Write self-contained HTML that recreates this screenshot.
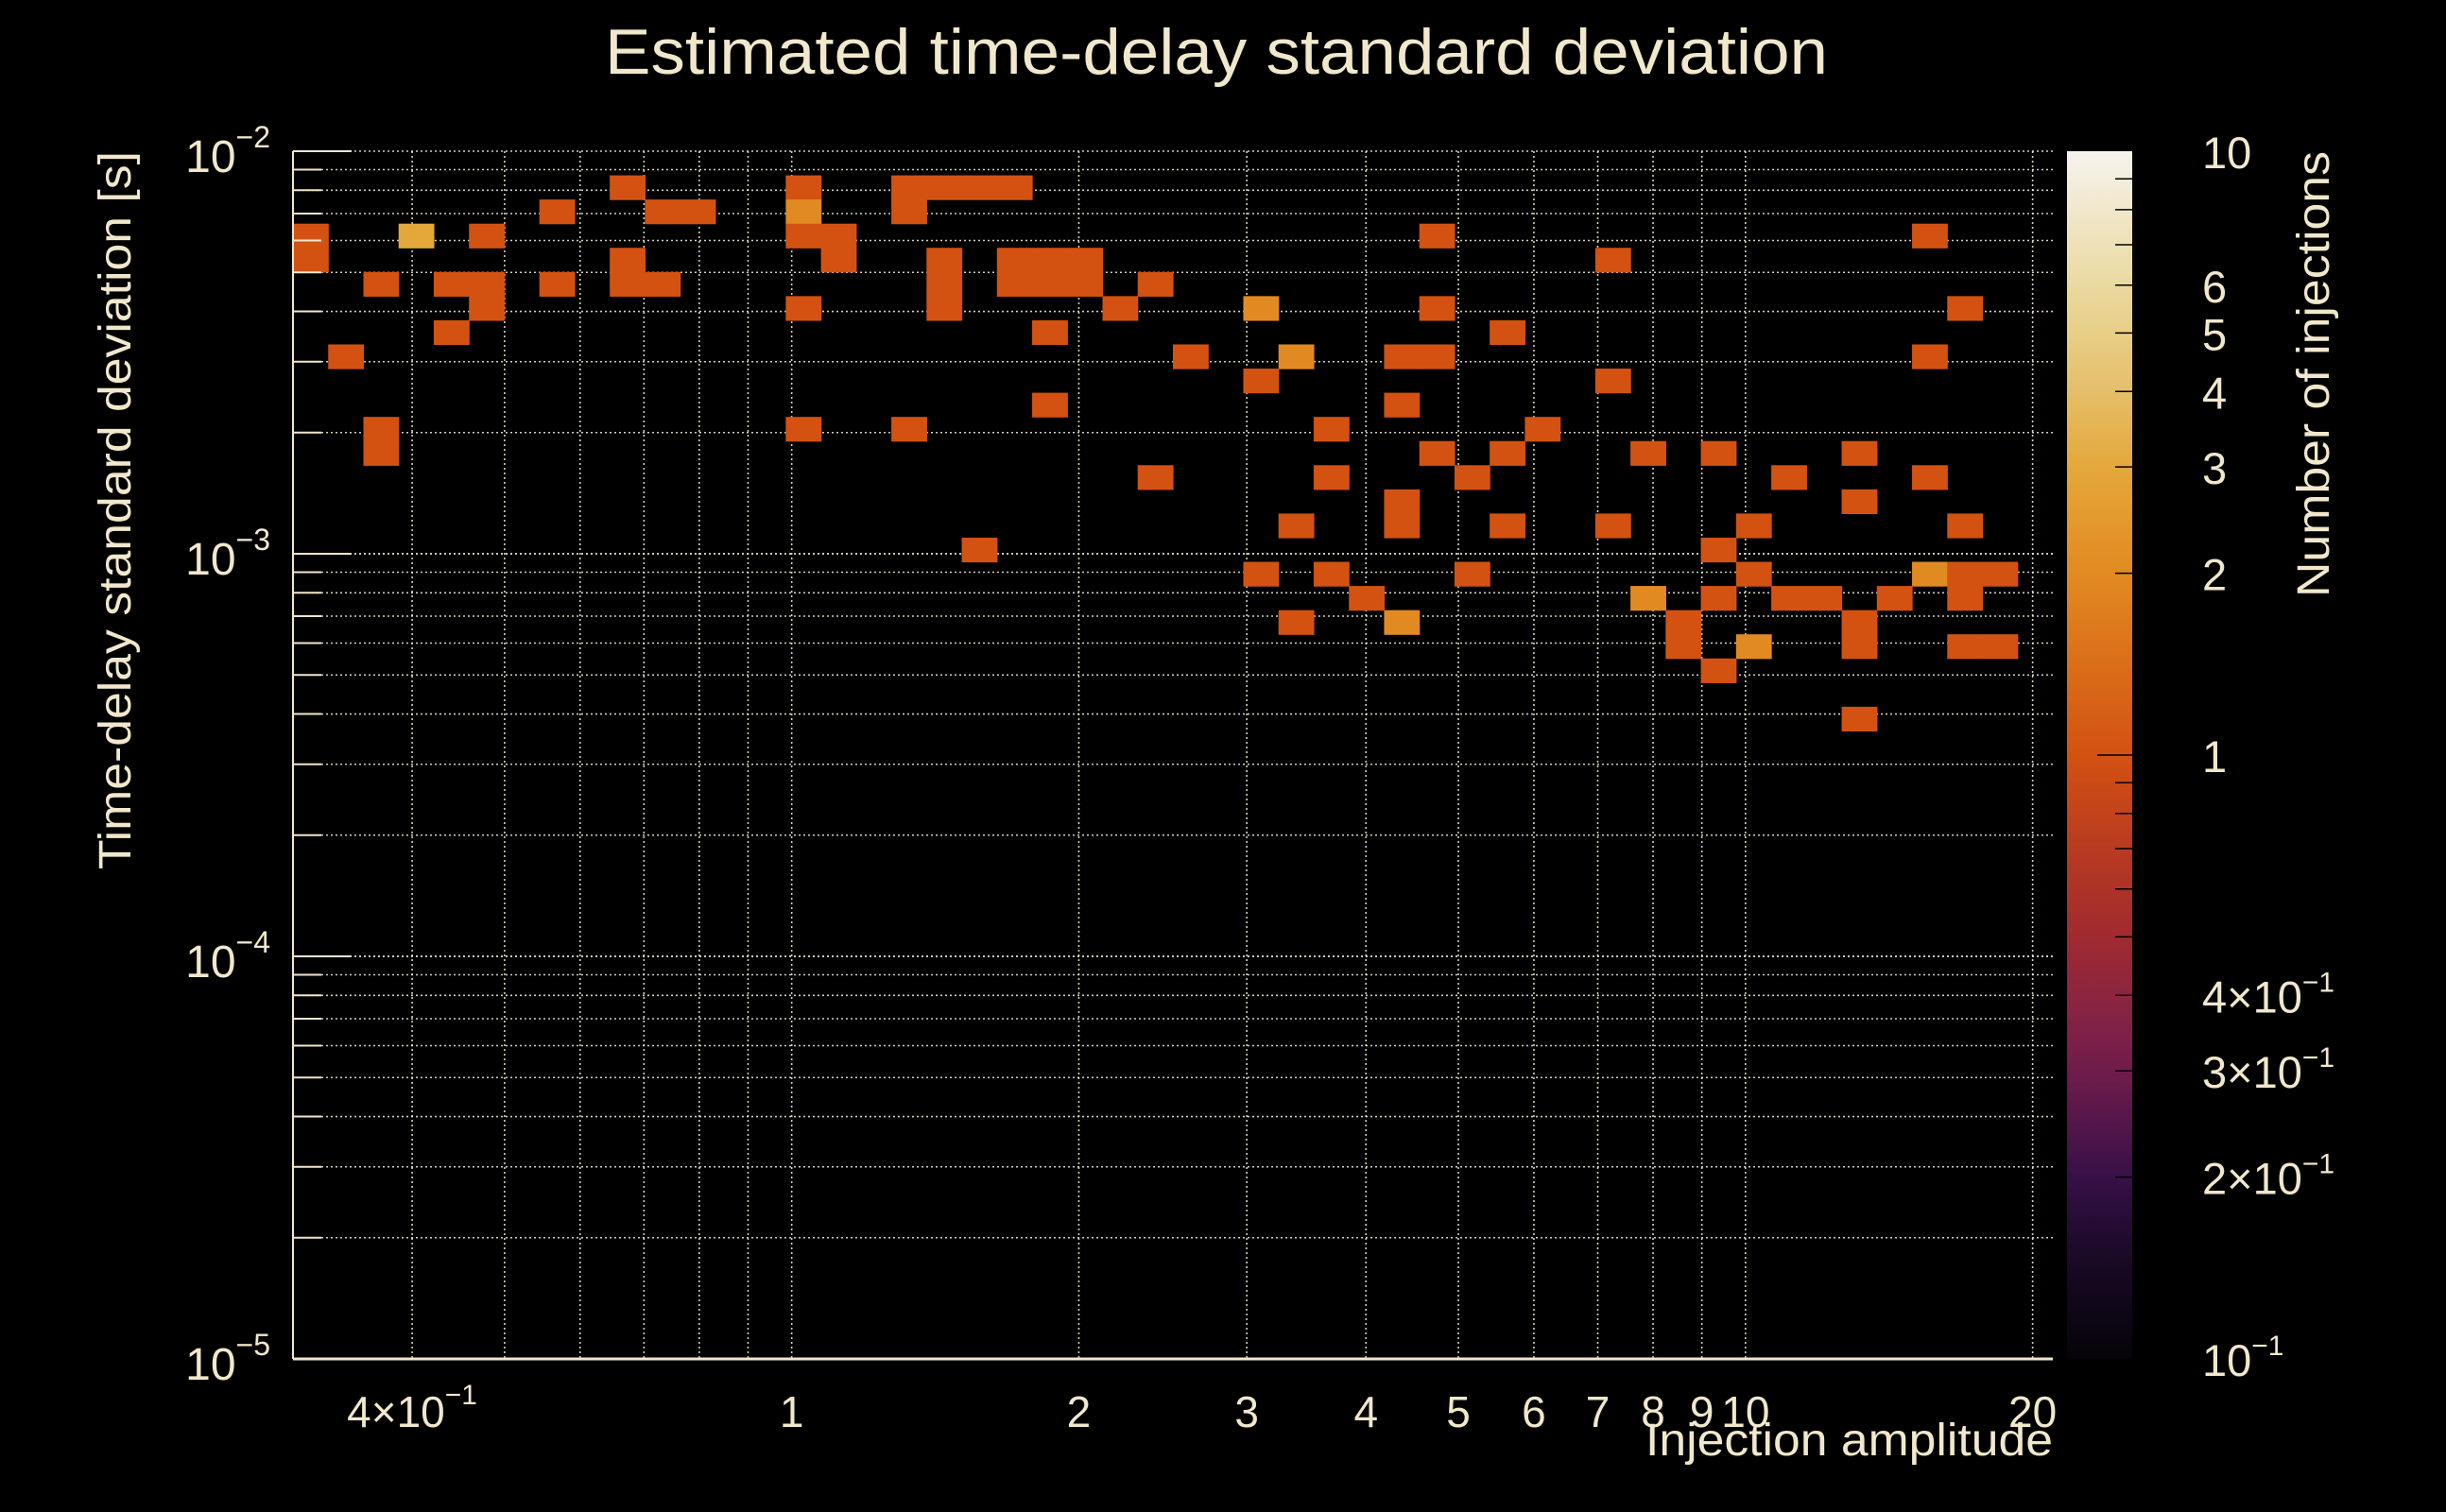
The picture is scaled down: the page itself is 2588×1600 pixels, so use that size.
<!DOCTYPE html>
<html><head><meta charset="utf-8"><title>Estimated time-delay standard deviation</title>
<style>
html,body{margin:0;padding:0;background:#000;}
svg{display:block;}
text{font-family:"Liberation Sans",sans-serif;fill:#f1e8cc;}
</style></head>
<body>
<svg id="chart" xmlns="http://www.w3.org/2000/svg" width="2588" height="1600" viewBox="0 0 2588 1600">
<rect x="0" y="0" width="2588" height="1600" fill="#000"/>
<g id="grid"></g>
<g id="cells"></g>
<g id="axes"></g>
<g id="cbar"></g>
<text x="1287" y="78" font-size="68" text-anchor="middle" textLength="1294" lengthAdjust="spacingAndGlyphs">Estimated time-delay standard deviation</text>
<text transform="translate(138,540) rotate(-90)" font-size="48" text-anchor="middle" textLength="760" lengthAdjust="spacingAndGlyphs">Time-delay standard deviation [s]</text>
<text x="2172" y="1540" font-size="48" text-anchor="end" textLength="431" lengthAdjust="spacingAndGlyphs">Injection amplitude</text>
<text transform="translate(2464,396) rotate(-90)" font-size="48" text-anchor="middle" textLength="472" lengthAdjust="spacingAndGlyphs">Number of injections</text>
</svg>
<script>
// ---- data ----
const amplitudes = [
0.672,1.03,1.33,1.44,1.57,1.71,
0.567,0.732,0.797,1.03,1.33,
0.313,0.404,0.479,1.03,1.12,4.75,15.6,
0.313,0.672,1.12,1.44,1.71,1.86,2.03,7.26,
0.371,0.440,0.479,0.567,0.672,0.732,1.44,1.71,1.86,2.03,2.41,
0.479,1.03,1.44,2.21,3.10,4.75,17.0,
0.440,1.86,5.63,
0.341,2.62,3.38,4.36,4.75,15.6,
3.10,7.26,
1.86,4.36,
0.371,1.03,1.33,3.68,6.13,
0.371,4.75,5.63,7.90,9.37,13.2,
2.41,3.68,5.17,11.1,15.6,
4.36,13.2,
3.38,4.36,5.63,7.26,10.2,17.0,
1.57,9.37,
3.10,3.68,5.17,10.2,15.6,17.0,18.5,
4.00,7.90,9.37,11.1,12.1,14.3,17.0,
3.38,4.36,8.61,13.2,
8.61,10.2,13.2,17.0,18.5,
9.37,
13.2
];
const sigmas = [
8.13e-3,8.13e-3,8.13e-3,8.13e-3,8.13e-3,8.13e-3,
7.08e-3,7.08e-3,7.08e-3,7.08e-3,7.08e-3,
6.17e-3,6.17e-3,6.17e-3,6.17e-3,6.17e-3,6.17e-3,6.17e-3,
5.37e-3,5.37e-3,5.37e-3,5.37e-3,5.37e-3,5.37e-3,5.37e-3,5.37e-3,
4.68e-3,4.68e-3,4.68e-3,4.68e-3,4.68e-3,4.68e-3,4.68e-3,4.68e-3,4.68e-3,4.68e-3,4.68e-3,
4.07e-3,4.07e-3,4.07e-3,4.07e-3,4.07e-3,4.07e-3,4.07e-3,
3.55e-3,3.55e-3,3.55e-3,
3.09e-3,3.09e-3,3.09e-3,3.09e-3,3.09e-3,3.09e-3,
2.69e-3,2.69e-3,
2.34e-3,2.34e-3,
2.04e-3,2.04e-3,2.04e-3,2.04e-3,2.04e-3,
1.78e-3,1.78e-3,1.78e-3,1.78e-3,1.78e-3,1.78e-3,
1.55e-3,1.55e-3,1.55e-3,1.55e-3,1.55e-3,
1.35e-3,1.35e-3,
1.17e-3,1.17e-3,1.17e-3,1.17e-3,1.17e-3,1.17e-3,
1.02e-3,1.02e-3,
8.91e-4,8.91e-4,8.91e-4,8.91e-4,8.91e-4,8.91e-4,8.91e-4,
7.76e-4,7.76e-4,7.76e-4,7.76e-4,7.76e-4,7.76e-4,7.76e-4,
6.76e-4,6.76e-4,6.76e-4,6.76e-4,
5.89e-4,5.89e-4,5.89e-4,5.89e-4,5.89e-4,
5.13e-4,
3.89e-4
];
const counts = [
1,1,1,1,1,1,
1,1,1,2,1,
1,3,1,1,1,1,1,
1,1,1,1,1,1,1,1,
1,1,1,1,1,1,1,1,1,1,1,
1,1,1,1,2,1,1,
1,1,1,
1,1,2,1,1,1,
1,1,
1,1,
1,1,1,1,1,
1,1,1,1,1,1,
1,1,1,1,1,
1,1,
1,1,1,1,1,1,
1,1,
1,1,1,1,2,1,1,
1,2,1,1,1,1,1,
1,2,1,1,
1,2,1,1,1,
1,
1
];
const xTickValues = [0.4,1,2,3,4,5,6,7,8,9,10,20];
const xTickLabels = ["4×10","1","2","3","4","5","6","7","8","9","10","20"];
const yDecades = [-5,-4,-3,-2];
const cbarTickValues = [0.1,0.2,0.3,0.4,1,2,3,4,5,6,10];
const cbarTickLabels = ["10","2×10","3×10","4×10","1","2","3","4","5","6","10"];

// ---- geometry ----
const NS="http://www.w3.org/2000/svg";
const PX0=310, PX1=2172, PY0=160, PY1=1438;
const XMIN=0.3, XMAX=21, YMIN=1e-5, YMAX=1e-2, NBX=50, NBY=50;
const LX0=Math.log10(XMIN), LX1=Math.log10(XMAX), LY0=Math.log10(YMIN), LY1=Math.log10(YMAX);
function xScale(v){return PX0+(Math.log10(v)-LX0)/(LX1-LX0)*(PX1-PX0);}
function yScale(v){return PY1-(Math.log10(v)-LY0)/(LY1-LY0)*(PY1-PY0);}
const CB0=2187, CB1=2256;
function cScale(v){return PY1-(Math.log10(v)+1)/2*(PY1-PY0);}
const cstops=[[0.1,[5,3,8]],[0.15,[26,10,40]],[0.2,[55,16,72]],[0.3,[112,29,76]],[0.4,[140,37,64]],[0.5,[160,42,48]],[0.7,[184,58,34]],[1,[211,82,18]],[2,[226,138,34]],[3,[228,168,58]],[4,[229,190,106]],[5,[232,207,136]],[6,[234,217,160]],[10,[246,243,238]]];
function cmap(v){
  const l=Math.log10(v);
  for(let i=0;i<cstops.length-1;i++){
    const a=Math.log10(cstops[i][0]), b=Math.log10(cstops[i+1][0]);
    if(l<=b||i===cstops.length-2){
      let t=Math.max(0,Math.min(1,(l-a)/(b-a)));
      const c=cstops[i][1].map((x,j)=>Math.round(x+(cstops[i+1][1][j]-x)*t));
      return "rgb("+c.join(",")+")";
    }
  }
}
function mk(tag,attrs,parent){const e=document.createElementNS(NS,tag);for(const k in attrs)e.setAttribute(k,attrs[k]);parent.appendChild(e);return e;}

// ---- grid ----
const grid=document.getElementById('grid');
const gstyle={stroke:"#fbf3dc","stroke-width":"1.6","stroke-dasharray":"2 3",opacity:"0.85"};
const xGridVals=[0.4,0.5,0.6,0.7,0.8,0.9,1,2,3,4,5,6,7,8,9,10,20];
xGridVals.forEach(v=>{
  const x=xScale(v);
  const l=mk('line',Object.assign({x1:x,x2:x,y1:PY0,y2:PY1},gstyle),grid);
  
  
});
for(let d=-5;d<=-3;d++){for(let m=1;m<=10;m++){
  const v=m*Math.pow(10,d); const y=yScale(v);
  const l=mk('line',Object.assign({x1:PX0,x2:PX1,y1:y,y2:y},gstyle),grid);
  
  
}}

// ---- cells ----
const cellsG=document.getElementById('cells');
for(let i=0;i<amplitudes.length;i++){
  const bx=Math.floor((Math.log10(amplitudes[i])-LX0)/(LX1-LX0)*NBX);
  const by=Math.floor((Math.log10(sigmas[i])-LY0)/(LY1-LY0)*NBY);
  const x=xScale(Math.pow(10,LX0+bx*(LX1-LX0)/NBX));
  const x2=xScale(Math.pow(10,LX0+(bx+1)*(LX1-LX0)/NBX));
  const y=yScale(Math.pow(10,LY0+(by+1)*(LY1-LY0)/NBY));
  const y2=yScale(Math.pow(10,LY0+by*(LY1-LY0)/NBY));
  const r=mk('rect',{x:x.toFixed(2),y:y.toFixed(2),width:(x2-x+0.6).toFixed(2),height:(y2-y+0.6).toFixed(2),fill:cmap(counts[i])},cellsG);
  
  
}

// ---- axes ----
const axes=document.getElementById('axes');
const ax=mk('line',{x1:PX0,x2:PX1,y1:PY1,y2:PY1,stroke:"#efe6cc","stroke-width":"3"},axes);


const ay=mk('line',{x1:PX0,x2:PX0,y1:PY0,y2:PY1,stroke:"#efe6cc","stroke-width":"2"},axes);


for(let d=-5;d<=-2;d++){for(let m=1;m<=9;m++){
  if(d===-2&&m>1)break;
  const y=yScale(m*Math.pow(10,d));
  const t=mk('line',{x1:PX0,x2:PX0+(m===1?62:30),y1:y,y2:y,stroke:"#efe6cc","stroke-width":"2"},axes);
  
  
}}
yDecades.forEach(d=>{
  const y=yScale(Math.pow(10,d));
  const t=mk('text',{x:286,y:y+22,"font-size":"48","text-anchor":"end"},axes);
  
  
  t.appendChild(document.createTextNode("10"));
  const s=mk('tspan',{"font-size":"32",dy:"-26"},t);
  s.textContent="−"+(-d);
});
xTickValues.forEach((v,i)=>{
  const x=xScale(v);
  const t=mk('text',{x:x,y:1510,"font-size":"46","text-anchor":"middle"},axes);
  
  
  t.appendChild(document.createTextNode(xTickLabels[i]));
  if(i===0){const s=mk('tspan',{"font-size":"30",dy:"-24"},t);s.textContent="−1";}
});

// ---- colorbar ----
const cbar=document.getElementById('cbar');
const defs=mk('defs',{},cbar);
const grad=mk('linearGradient',{id:"cgrad",x1:"0",y1:"1",x2:"0",y2:"0"},defs);
for(let k=0;k<=40;k++){
  const v=Math.pow(10,-1+2*k/40);
  mk('stop',{offset:(k/40).toFixed(3),"stop-color":cmap(v)},grad);
}
const cb=mk('rect',{x:CB0,y:PY0,width:CB1-CB0,height:PY1-PY0,fill:"url(#cgrad)"},cbar);


for(let d=-1;d<=0;d++){for(let m=1;m<=9;m++){
  const v=m*Math.pow(10,d); if(v<=0.1)continue;
  const y=cScale(v);
  const t=mk('line',{x1:CB1-(m===1?37:18),x2:CB1,y1:y,y2:y,stroke:"#000","stroke-width":"1.5"},cbar);
  
  
}}
cbarTickValues.forEach((v,i)=>{
  const y=cScale(v);
  const t=mk('text',{x:2330,y:y+18,"font-size":"47"},cbar);
  
  
  t.appendChild(document.createTextNode(cbarTickLabels[i]));
  if(v<1){const s=mk('tspan',{"font-size":"30",dy:"-22"},t);s.textContent="−1";}
});
</script>
</body></html>
